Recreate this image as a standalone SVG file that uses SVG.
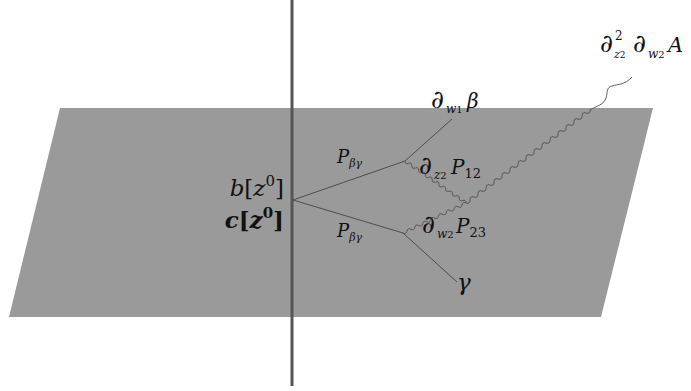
<svg xmlns="http://www.w3.org/2000/svg" width="691" height="391" viewBox="0 0 691 391">
<style>
.ln{fill:none;stroke:#4d4d4d;stroke-width:1}
.wv{fill:none;stroke:#4d4d4d;stroke-width:0.9}
.t{font-family:'DejaVu Serif','Liberation Serif',serif;fill:#111}
.i{font-style:italic}
.b{font-weight:bold}
.d{font-size:25px}
</style>
<rect x="0" y="0" width="691" height="391" fill="#fff"/>
<g id="plane"><polygon points="60,108 653,108 601,317 9,317" fill="#9a9a9a"/></g>
<g id="axis"><line x1="292" y1="0" x2="292" y2="386" stroke="#555" stroke-width="3"/></g>
<g id="connectors">
<polyline class="ln" points="293,200 405,161 452,119"/>
<polyline class="ln" points="293,200 403,233 457,282"/>
<path class="wv" d="M405,161 q0,3.6 3.39,2.33 t3.39,2.33 t3.39,2.33 t3.39,2.33 t3.39,2.33 t3.39,2.33 t3.39,2.33 t3.39,2.33 t3.39,2.33 t3.39,2.33 t3.39,2.33 t3.39,2.33 t3.39,2.33 t3.39,2.33 t3.39,2.33 t3.39,2.33 t3.39,2.33 t3.39,2.33"/>
<path class="wv" d="M403,233 q3.26,1.77 3.94,-1.875 t3.94,-1.875 t3.94,-1.875 t3.94,-1.875 t3.94,-1.875 t3.94,-1.875 t3.94,-1.875 t3.94,-1.875 t3.94,-1.875 t3.94,-1.875 t3.94,-1.875 t3.94,-1.875 t3.94,-1.875 t3.94,-1.875 t3.94,-1.875 t3.94,-1.875"/>
<path class="wv" d="M466,203 q4.1,1.3 4,-3 t4,-3 t4,-3 t4,-3 t4,-3 t4,-3 t4,-3 t4,-3 t4,-3 t4,-3 t4,-3 t4,-3 t4,-3 t4,-3 t4,-3 t4,-3 t4,-3 t4,-3 t4,-3 t4,-3 t4,-3 t4,-3 t4,-3 t4,-3 t4,-3 t4,-3 t4,-3 t4,-3 t4,-3 t4,-3 t4,-3 C596,106 604,105 606,98 S606,88 612,86 S625,85 632,77"/>
</g>
<g id="label-b"><text class="t" x="284" y="196" font-size="23" text-anchor="end"><tspan class="i">b</tspan>[<tspan class="i">z</tspan><tspan font-size="15" dy="-10">0</tspan><tspan dy="10">]</tspan></text></g>
<g id="label-c"><text class="t b" x="284" y="228" font-size="23" text-anchor="end"><tspan class="i">c</tspan>[<tspan class="i">z</tspan><tspan font-size="15" dy="-10">0</tspan><tspan dy="10">]</tspan></text></g>
<g id="label-P-upper"><text class="t" x="337" y="163" font-size="18"><tspan class="i">P</tspan><tspan class="i" font-size="11" dy="4">βγ</tspan></text></g>
<g id="label-P-lower"><text class="t" x="337" y="237" font-size="18"><tspan class="i">P</tspan><tspan class="i" font-size="11" dy="4">βγ</tspan></text></g>
<g id="label-dw1beta"><text class="t" y="108" font-size="20"><tspan x="431" class="d">∂</tspan><tspan x="446" dy="5" font-size="12" class="i">w</tspan><tspan font-size="10">1</tspan><tspan x="467" dy="-5" class="i">β</tspan></text></g>
<g id="label-dz2P12"><text class="t" y="174" font-size="20"><tspan x="419" class="d">∂</tspan><tspan x="434" dy="5" font-size="12" class="i">z</tspan><tspan font-size="10">2</tspan><tspan x="451" dy="-5" class="i">P</tspan><tspan dy="4" font-size="13">12</tspan></text></g>
<g id="label-dw2P23"><text class="t" y="233" font-size="20"><tspan x="422" class="d">∂</tspan><tspan x="437" dy="5" font-size="12" class="i">w</tspan><tspan font-size="10">2</tspan><tspan x="456" dy="-5" class="i">P</tspan><tspan dy="4" font-size="13">23</tspan></text></g>
<g id="label-gamma"><text class="t i" x="457" y="290" font-size="23">γ</text></g>
<g id="label-A"><text class="t" y="52" font-size="21"><tspan x="600" class="d">∂</tspan><tspan x="615" dy="-12" font-size="12">2</tspan><tspan x="614" dy="18" font-size="11" class="i">z</tspan><tspan font-size="9">2</tspan><tspan x="633" dy="-6" class="d">∂</tspan><tspan x="648" dy="6" font-size="12" class="i">w</tspan><tspan font-size="10">2</tspan><tspan x="668" dy="-6" class="i">A</tspan></text></g>
</svg>
